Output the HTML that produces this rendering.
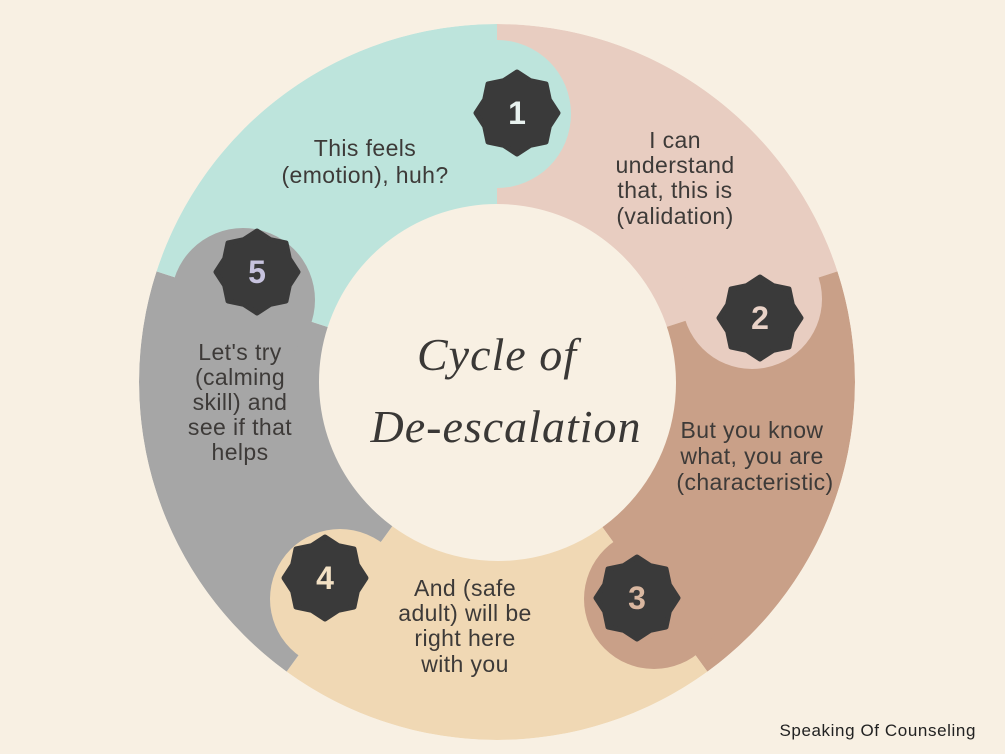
<!DOCTYPE html>
<html><head><meta charset="utf-8"><style>
html,body{margin:0;padding:0;background:#f8f0e3;}
svg{display:block}
.t{font-family:"Liberation Sans","DejaVu Sans",sans-serif;font-size:23px;fill:#3d3a38;text-anchor:middle;letter-spacing:0.4px}
.s{font-family:"Liberation Serif","DejaVu Serif",serif;font-style:italic;font-size:46px;fill:#3a3836;text-anchor:middle;letter-spacing:1px}
.n{font-family:"Liberation Sans",sans-serif;font-weight:bold;font-size:32px;text-anchor:middle}
</style></head><body>
<svg width="1005" height="754" viewBox="0 0 1005 754" xmlns="http://www.w3.org/2000/svg">
<defs>
<clipPath id="ring"><circle cx="497" cy="382" r="358"/></clipPath>
<polygon id="star" points="0,-41 13.4,-32.3 29,-29 32.3,-13.4 41,0 32.3,13.4 29,29 13.4,32.3 0,41 -13.4,32.3 -29,29 -32.3,13.4 -41,0 -32.3,-13.4 -29,-29 -13.4,-32.3" fill="#3a3a3a" stroke="#3a3a3a" stroke-width="5" stroke-linejoin="round"/>
</defs>
<rect width="1005" height="754" fill="#f8f0e3"/>
<g clip-path="url(#ring)">
<path d="M497,24 A358,358 0 0 1 837.5,271.4 L666.3,327 A178,178 0 0 0 497,204 Z" fill="#e8cdc1"/>
<path d="M837.5,271.4 A358,358 0 0 1 707.4,671.6 L601.6,526 A178,178 0 0 0 666.3,327 Z" fill="#c9a088"/>
<path d="M707.4,671.6 A358,358 0 0 1 286.6,671.6 L392.4,526 A178,178 0 0 0 601.6,526 Z" fill="#f0d8b4"/>
<path d="M286.6,671.6 A358,358 0 0 1 156.5,271.4 L327.7,327 A178,178 0 0 0 392.4,526 Z" fill="#a6a6a6"/>
<path d="M156.5,271.4 A358,358 0 0 1 497,24 L497,204 A178,178 0 0 0 327.7,327 Z" fill="#bde4dc"/>
<circle cx="497" cy="114" r="74" fill="#bde4dc"/>
<circle cx="752" cy="299" r="70" fill="#e8cdc1"/>
<circle cx="654" cy="599" r="70" fill="#c9a088"/>
<circle cx="340" cy="599" r="70" fill="#f0d8b4"/>
<circle cx="243" cy="300" r="72" fill="#a6a6a6"/>
</g>
<circle cx="498" cy="383" r="178" fill="#f8f0e3"/>
<g transform="translate(517,113)"><use href="#star"/><text class="n" y="11" fill="#e8f2ef">1</text></g>
<g transform="translate(760,318)"><use href="#star"/><text class="n" y="11" fill="#ead3c8">2</text></g>
<g transform="translate(637,598)"><use href="#star"/><text class="n" y="11" fill="#d9b7a0">3</text></g>
<g transform="translate(325,578)"><use href="#star"/><text class="n" y="11" fill="#f3e1c4">4</text></g>
<g transform="translate(257,272)"><use href="#star"/><text class="n" y="11" fill="#c7c3de">5</text></g>
<text class="t" x="365" y="156">This feels</text>
<text class="t" x="365" y="183">(emotion), huh?</text>
<text class="t" x="675" y="148">I can</text>
<text class="t" x="675" y="173">understand</text>
<text class="t" x="675" y="198">that, this is</text>
<text class="t" x="675" y="224">(validation)</text>
<text class="t" x="752" y="438">But you know</text>
<text class="t" x="752" y="464">what, you are</text>
<text class="t" x="755" y="490">(characteristic)</text>
<text class="t" x="465" y="596">And (safe</text>
<text class="t" x="465" y="621">adult) will be</text>
<text class="t" x="465" y="646">right here</text>
<text class="t" x="465" y="672">with you</text>
<text class="t" x="240" y="360">Let's try</text>
<text class="t" x="240" y="385">(calming</text>
<text class="t" x="240" y="410">skill) and</text>
<text class="t" x="240" y="435">see if that</text>
<text class="t" x="240" y="460">helps</text>
<text class="s" x="497" y="370">Cycle of</text>
<text class="s" x="506" y="442">De-escalation</text>
<text x="976" y="736" text-anchor="end" style="font-family:'Liberation Sans',sans-serif;font-size:17px;letter-spacing:0.6px;fill:#222">Speaking Of Counseling</text>
</svg>
</body></html>
